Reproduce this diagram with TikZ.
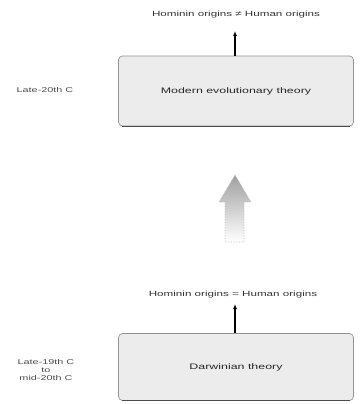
\documentclass[tikz,border=0pt]{standalone}
\usepackage{fontspec}
\setmainfont{Liberation Sans}
\usetikzlibrary{arrows.meta}
\newcommand{\wide}[1]{\scalebox{1.55}[1]{#1}}
\begin{document}
\begin{tikzpicture}[x=1pt,y=-1pt,
  theorybox/.style={draw=gray!85, fill=gray!15, rounded corners=4pt, minimum width=235pt, minimum height=70pt, font=\fontsize{8}{9}\selectfont, text=black!85, line width=0.7pt},
  shade/.style={draw=black!70, line width=1.2pt},
  lbl/.style={font=\fontsize{7.5}{8}\selectfont, text=black!80},
  side/.style={font=\fontsize{7}{8}\selectfont, align=center, text=black!70},
  up/.style={-{Latex[length=5pt,width=4pt]}, line width=1.2pt},
  blockarrow/.style={top color=gray!75, bottom color=white, draw=gray!50, densely dotted, line width=0.6pt}]
\useasboundingbox (0,0) rectangle (361,404);
\node[theorybox] (mod) at (236,91) {\wide{Modern evolutionary theory}};
\draw[shade] ([xshift=4pt]mod.south west) -- ([xshift=-4pt]mod.south east);
\node[lbl] (top) at (236,15) {\wide{Hominin origins ≠ Human origins}};
\coordinate (ta) at (235,31);
\draw[up] (mod.north -| ta) -- (ta);
\node[side] (l1) at (45,90) {\wide{Late-20th C}};

\node[theorybox, minimum height=67pt] (dar) at (236,367) {\wide{Darwinian theory}};
\draw[shade] ([xshift=4pt]dar.south west) -- ([xshift=-4pt]dar.south east);
\node[lbl] (bot) at (233,295) {\wide{Hominin origins = Human origins}};
\coordinate (ba) at (235,304);
\draw[up] (dar.north -| ba) -- (ba);
\node[side] (l2) at (46,370) {\wide{Late-19th C}\\\wide{to}\\\wide{mid-20th C}};

\path[blockarrow] (225,242) -- (225,202) -- (219,202) -- (235,175) -- (251,202) -- (244,202) -- (244,242) -- cycle;
\end{tikzpicture}
\end{document}
